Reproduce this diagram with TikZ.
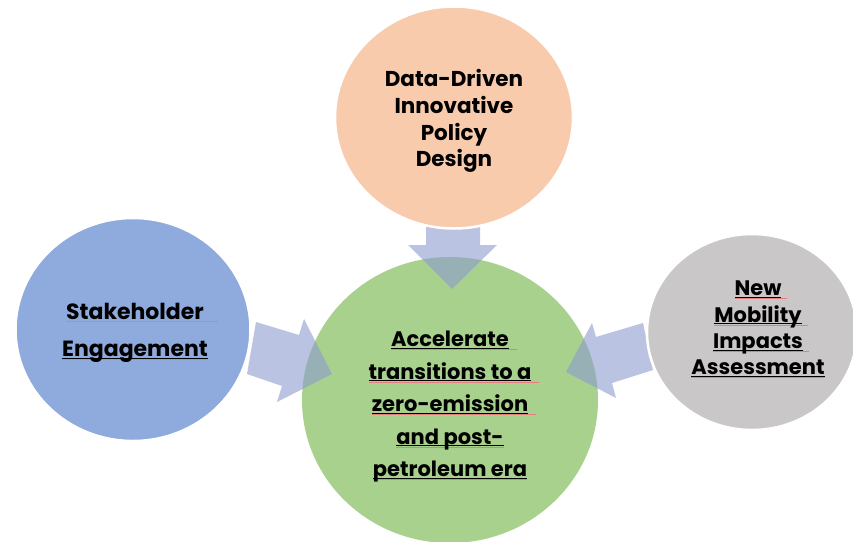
\documentclass[tikz,border=0pt]{standalone}
\usepackage{fontspec}
\setmainfont{Poppins}
\usetikzlibrary{calc}
\definecolor{corange}{RGB}{248,203,173}
\definecolor{cblue}{RGB}{143,170,220}
\definecolor{cgray}{RGB}{201,199,200}
\definecolor{cgreen}{RGB}{169,209,142}
\definecolor{carrow}{RGB}{140,155,208}
\definecolor{cspell}{RGB}{232,125,125}
% black underline + red spell line (extra width #2)
\newcommand\ulk[2]{\setbox0\hbox{#1}\rlap{\color{cspell}\rule[-3.0pt]{\dimexpr\wd0+#2\relax}{0.55pt}}\rlap{\rule[-2.0pt]{\wd0}{1.0pt}}\box0}
% red spell line only
\newcommand\ulr[2]{\setbox0\hbox{#1}\rlap{\color{cspell}\rule[-2.4pt]{\dimexpr\wd0+#2\relax}{0.55pt}}\box0}
\tikzset{
  bubble/.style={draw=white, line width=2.5pt},
  blockarrow/.style={fill=carrow, fill opacity=0.6, draw=none},
  label/.style={align=center, font=\bfseries, text=black, inner sep=0pt},
}
\begin{document}
\begin{tikzpicture}[x=1pt,y=-1pt]
\useasboundingbox (0,0) rectangle (853,541);
\fill[white] (0,0) rectangle (853,541);
% central circle
\fill[cgreen] (450,400) ellipse [x radius=148, y radius=143];
% block arrows
\fill[blockarrow] (426,226) -- (480,226) -- (480,245) -- (497,245) -- (452,289) -- (408,245) -- (426,245) -- cycle;
\fill[blockarrow] (256,322) -- (299,335) -- (304,319) -- (332,374) -- (277,402) -- (282,386) -- (247,374) -- cycle;
\fill[blockarrow] (643,323) -- (596,337) -- (592,323) -- (566,372) -- (616,398) -- (612,383) -- (653,370) -- cycle;
% outer circles
\draw[bubble, fill=corange] (454,117.5) ellipse [x radius=119, y radius=111];
\draw[bubble, fill=cblue] (133,329.5) ellipse [x radius=117.5, y radius=111.5];
\draw[bubble, fill=cgray] (752,332) ellipse [x radius=105, y radius=98];
% texts
\node[label, font=\bfseries\fontsize{21.5}{26.7}\selectfont] (top) at (454,121)
  {Data-Driven\\Innovative\\Policy\\Design};
\node[label, font=\bfseries\fontsize{22}{37}\selectfont] (left) at (135,333)
  {\ulr{Stakeholder}{14pt}\\\ulk{Engagement}{0pt}};
\node[label, font=\bfseries\fontsize{21}{26.3}\selectfont] (right) at (758,329.5)
  {\ulk{New}{6pt}\\\ulk{Mobility}{6pt}\\\ulk{Impacts}{6pt}\\\ulk{Assessment}{0pt}};
\node[label, font=\bfseries\fontsize{21}{32.5}\selectfont] (center) at (450,407)
  {\ulk{Accelerate}{8pt}\\\ulk{transitions to a}{8pt}\\\ulk{zero-emission}{8pt}\\\ulk{and post-}{0pt}\\\ulk{petroleum era}{0pt}};
\end{tikzpicture}
\end{document}
